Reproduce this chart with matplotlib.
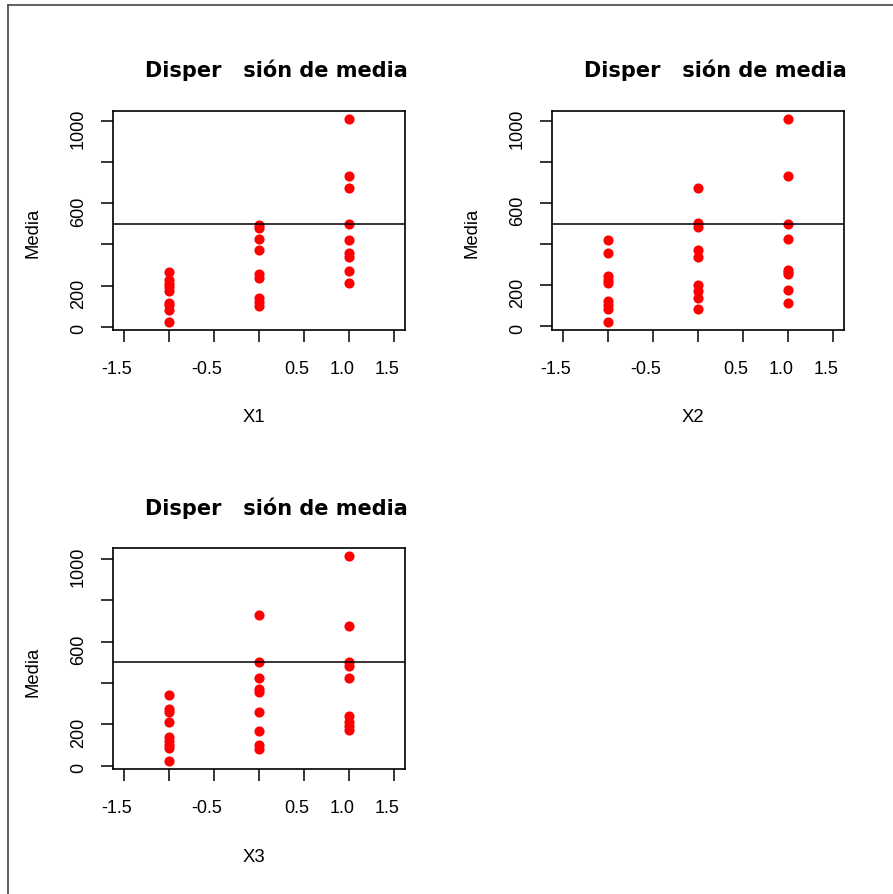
import numpy as np
import matplotlib
matplotlib.use("Agg")
import matplotlib.pyplot as plt
from matplotlib.lines import Line2D
from matplotlib.transforms import ScaledTranslation

plt.rcParams['font.family'] = ['Liberation Sans', 'DejaVu Sans']

# data
levels = [-1]*9 + [0]*9 + [1]*9
media_x1 = [265, 225, 210, 195, 175, 115, 105, 82, 25,
            497, 481, 427, 371, 255, 239, 139, 119, 100,
            1011, 732, 674, 500, 421, 358, 339, 271, 213]
media_x2 = [421, 356, 244, 227, 211, 123, 106, 82, 23,
            674, 502, 482, 373, 340, 203, 174, 139, 85,
            1011, 732, 500, 427, 273, 265, 256, 176, 113]
media_x3 = [340, 274, 258, 213, 137, 121, 100, 84, 24,
            729, 503, 426, 371, 355, 261, 169, 100, 81,
            1011, 673, 503, 484, 423, 239, 213, 190, 174]
xnames = ["X1", "X2", "X3"]
title = "Disper   sión de media"
ylab = "Media"
ref_line = 500
xticks = [-1.5, -1.0, -0.5, 0.0, 0.5, 1.0, 1.5]
xticklabels = ["-1.5", "", "-0.5", "", "0.5", "1.0", "1.5"]
yticks = [0, 200, 400, 600, 800, 1000]
yticklabels = ["0", "200", "", "600", "", "1000"]

W, H = 893, 895
fig = plt.figure(figsize=(W/100, H/100), dpi=100)

# panel boxes in pixels: left, top, right, bottom
boxes = [(113, 111.7, 405, 330.7), (552, 111.7, 844, 330.7), (113, 549.3, 405, 770)]
series = [media_x1, media_x2, media_x3]

for (l, t, r, b), ys, name in zip(boxes, series, xnames):
    ax = fig.add_axes([l/W, 1-b/H, (r-l)/W, (b-t)/H])
    ax.plot(levels, ys, 'o', color='#ff0000', markersize=7.3, markeredgewidth=0)
    ax.axhline(ref_line, color='black', lw=1.1)
    ax.set_xlim(-1.5 - 0.12, 1.5 + 0.12)
    lo, hi = min(ys), max(ys)
    pad = 0.04*(hi - lo)
    ax.set_ylim(lo - pad, hi + pad)
    ax.set_xticks(xticks)
    ax.set_xticklabels(xticklabels)
    ax.set_yticks(yticks)
    ax.set_yticklabels(yticklabels, rotation=90, va='center')
    ax.tick_params(axis='both', length=8.7, width=1.1, labelsize=13, direction='out')
    ax.tick_params(axis='x', pad=13)
    ax.tick_params(axis='y', pad=10)
    for s in ax.spines.values():
        s.set_linewidth(1.2)
    # text in the original sits a little before its tick
    for lab in ax.get_xticklabels():
        lab.set_transform(lab.get_transform() + ScaledTranslation(-0.07, 0, fig.dpi_scale_trans))
    for lab in ax.get_yticklabels():
        dy = -0.07 if len(lab.get_text()) > 1 else -0.015
        lab.set_transform(lab.get_transform() + ScaledTranslation(0, dy, fig.dpi_scale_trans))
    ax.set_title(title, x=(276-113)/292, pad=25, fontsize=15, fontweight='bold',
                 family=['DejaVu Sans'])
    ax.text((254-113)/292, -91/219, name, transform=ax.transAxes,
            ha='center', va='baseline', fontsize=13.3)
    ax.text(-80/292, 1-(233-111.7)/219, ylab, transform=ax.transAxes,
            rotation=90, ha='center', va='center', fontsize=13.3)

# device frame (top and left edges)
fig.add_artist(Line2D([8/W, 1], [1-6/H, 1-6/H], color='#444444', lw=1.2))
fig.add_artist(Line2D([8/W, 8/W], [0, 1-6/H], color='#444444', lw=1.2))

fig.savefig("out.png", dpi=100)
